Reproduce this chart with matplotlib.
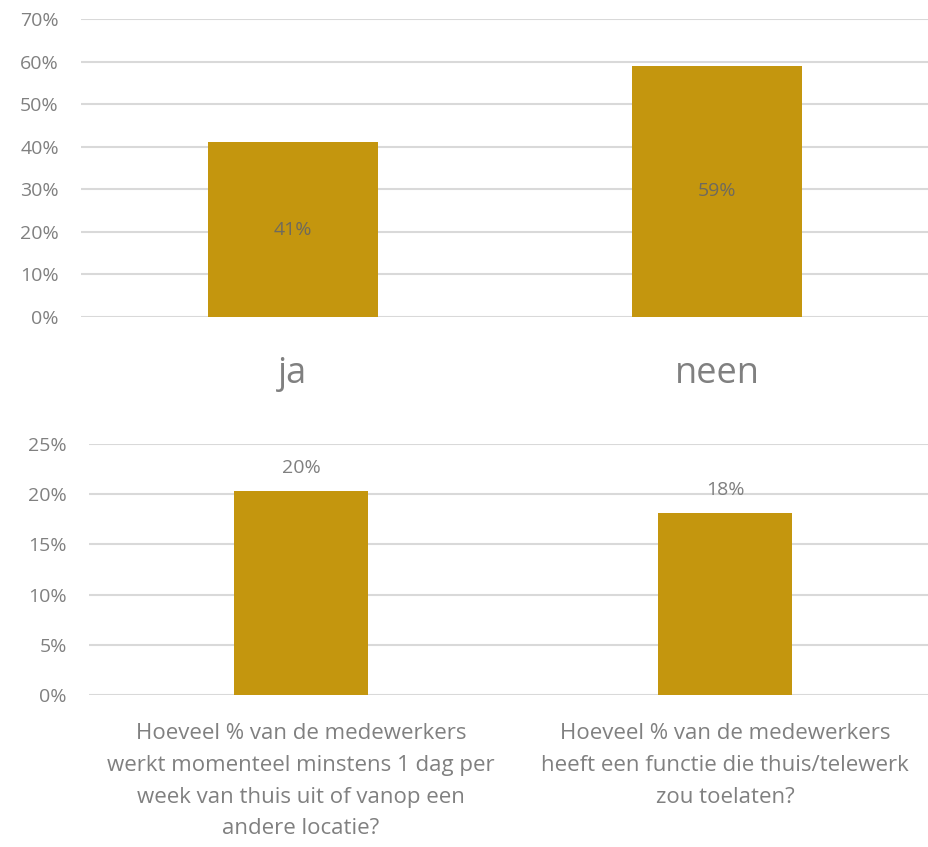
import matplotlib.pyplot as plt
from matplotlib.ticker import PercentFormatter

plt.rcParams['font.family'] = ['Open Sans', 'DejaVu Sans']

# top chart
top_labels = ["ja", "neen"]
top_values = [41, 59]

# bottom chart
bottom_labels = [
    "Hoeveel % van de medewerkers\nwerkt momenteel minstens 1 dag per\nweek van thuis uit of vanop een\nandere locatie?",
    "Hoeveel % van de medewerkers\nheeft een functie die thuis/telewerk\nzou toelaten?",
]
bottom_values = [20.3, 18.1]
bottom_texts = ["20%", "18%"]

bar_color = "#C4960E"
text_color = "#808080"
grid_color = "#D9D9D9"

fig = plt.figure(figsize=(9.29, 8.47), dpi=100)
W, H = 929, 847

def style(ax):
    for s in ax.spines.values():
        s.set_visible(False)
    ax.yaxis.grid(True, color=grid_color, linewidth=1.5)
    ax.set_axisbelow(True)
    ax.tick_params(length=0, colors=text_color, labelsize=14)
    ax.tick_params(axis='y', pad=16)
    ax.yaxis.set_major_formatter(PercentFormatter(decimals=0))

# top axes: x 81..929, y 19..317 (pixels)
ax1 = fig.add_axes([81 / W, 1 - 317 / H, 848 / W, 298 / H])
style(ax1)
ax1.bar(range(2), top_values, width=0.4, color=bar_color)
ax1.set_xlim(-0.5, 1.5)
ax1.set_ylim(0, 70)
ax1.set_yticks(range(0, 71, 10))
ax1.set_xticks(range(2))
ax1.set_xticklabels(top_labels, fontsize=26, color=text_color)
ax1.tick_params(axis='x', pad=28)
for i, v in enumerate(top_values):
    ax1.text(i, v / 2, f"{v}%", ha='center', va='center', fontsize=14, color="#6E6A5E")

# bottom axes: x 89..937, y 444..695
ax2 = fig.add_axes([89 / W, 1 - 695 / H, 848 / W, 251 / H])
style(ax2)
ax2.bar(range(2), bottom_values, width=0.316, color=bar_color)
ax2.set_xlim(-0.5, 1.5)
ax2.set_ylim(0, 25)
ax2.set_yticks(range(0, 26, 5))
ax2.set_xticks(range(2))
ax2.set_xticklabels(bottom_labels, fontsize=16, color=text_color, linespacing=1.68)
ax2.tick_params(axis='x', pad=20)
for i, v in enumerate(bottom_values):
    ax2.text(i, v + 1.4, bottom_texts[i], ha='center', va='bottom', fontsize=14, color=text_color)

fig.savefig("out.png", dpi=100)
